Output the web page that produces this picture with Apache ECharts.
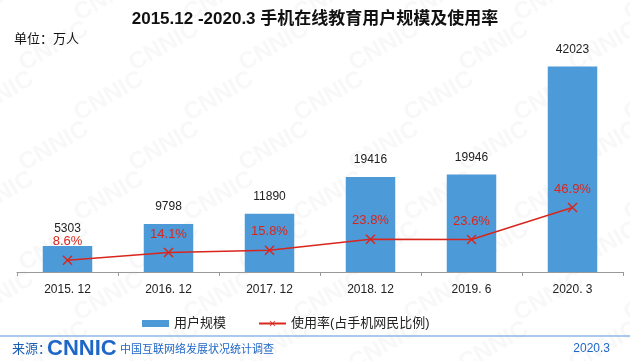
<!DOCTYPE html>
<html><head><meta charset="utf-8">
<script src="https://cdn.jsdelivr.net/npm/echarts@6/dist/echarts.min.js"></script>
<style>html,body{margin:0;padding:0;background:#fff}#c{width:630px;height:361px}</style>
</head><body><div id="c"></div>
<script>
const categories = ['2015. 12','2016. 12','2017. 12','2018. 12','2019. 6','2020. 3'];
const users = [5303, 9798, 11890, 19416, 19946, 42023];
const rates = [8.6, 14.1, 15.8, 23.8, 23.6, 46.9];
const titleText = '2015.12 -2020.3 手机在线教育用户规模及使用率';
const unitText = '单位：万人';
const seriesNames = ['用户规模', '使用率(占手机网民比例)'];

const FONT = '"Liberation Sans", "Noto Sans CJK SC", sans-serif';
const chart = echarts.init(document.getElementById('c'));

const wm = [];
for (let r = 0; r < 8; r++) {
  for (let k = 0; k < 7; k++) {
    wm.push({
      type: 'text', z: -10, silent: true,
      x: k * 110 + (r % 2) * 55 - 40, y: r * 50 + 5,
      rotation: Math.PI / 6,
      style: { text: 'CNNIC', font: 'bold 24px ' + FONT, fill: 'rgba(190,190,190,0.11)' }
    });
  }
}

chart.setOption({
  animation: false,
  textStyle: { fontFamily: FONT },
  title: {
    text: titleText, left: 'center', top: 6,
    textStyle: { fontSize: 17, fontWeight: 'bold', color: '#111', fontFamily: FONT }
  },
  legend: {
    left: 137, top: 312, itemWidth: 27, itemHeight: 7, itemGap: 32,
    textStyle: { fontSize: 13, color: '#222' },
    data: [{ name: seriesNames[0], icon: 'rect' }, { name: seriesNames[1] }]
  },
  grid: { left: 17, right: 7, top: 52, bottom: 89 },
  xAxis: {
    type: 'category', data: categories,
    axisLine: { lineStyle: { color: '#999' } },
    axisTick: { show: true, lineStyle: { color: '#999' }, length: 4 },
    axisLabel: { color: '#222', fontSize: 12, margin: 12 }
  },
  yAxis: [
    { type: 'value', min: 0, max: 45000, show: false, splitLine: { show: false } },
    { type: 'value', min: 0, max: 160, show: false, splitLine: { show: false } }
  ],
  graphic: wm.concat([
    { type: 'text', left: 14, top: 33, style: { text: unitText, font: '13px ' + FONT, fill: '#111' } },
    { type: 'line', shape: { x1: 0, y1: 336, x2: 630, y2: 336 }, style: { stroke: '#8db8e6', lineWidth: 1.5 } },
    { type: 'text', left: 12, top: 343, style: { text: '来源：', font: '13px ' + FONT, fill: '#1a5fb4' } },
    { type: 'text', left: 47, top: 338, style: { text: 'CNNIC', font: 'bold 22px ' + FONT, fill: '#1f67c7' } },
    { type: 'text', left: 120, top: 344, style: { text: '中国互联网络发展状况统计调查', font: '11px ' + FONT, fill: '#1f67c7' } },
    { type: 'text', right: 20, top: 343, style: { text: '2020.3', font: '12px ' + FONT, fill: '#1f67c7' } }
  ]),
  series: [
    {
      name: seriesNames[0], type: 'bar', data: users, barWidth: '49%',
      itemStyle: { color: '#4d9ad9' },
      label: { show: true, position: 'top', distance: 11, color: '#222', fontSize: 12 }
    },
    {
      name: seriesNames[1], type: 'line', yAxisIndex: 1, data: rates,
      lineStyle: { color: '#d9261c', width: 1.5 },
      itemStyle: { color: '#d9261c' },
      symbol: 'path://M0,1L1,0L5,4L9,0L10,1L6,5L10,9L9,10L5,6L1,10L0,9L4,5Z',
      symbolSize: 10,
      label: { show: true, position: 'top', distance: 7, color: '#d9261c', fontSize: 13, formatter: p => p.value + '%' }
    }
  ]
});
</script></body></html>
